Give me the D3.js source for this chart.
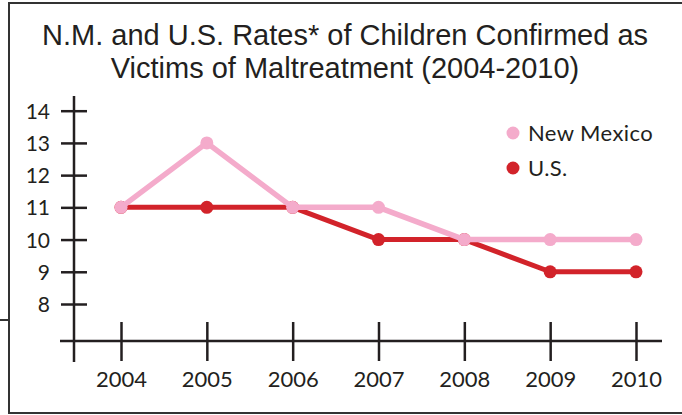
<!DOCTYPE html>
<html><head><meta charset="utf-8">
<script src="https://cdn.jsdelivr.net/npm/d3@7"></script>
<style>body{margin:0;background:#fff}svg{display:block}</style>
</head><body>
<script>
const years = [2004, 2005, 2006, 2007, 2008, 2009, 2010];
const newMexico = [11, 13, 11, 11, 10, 10, 10];
const us = [11, 11, 11, 10, 10, 9, 9];
const yTicks = [8, 9, 10, 11, 12, 13, 14];
const titleLines = ["N.M. and U.S. Rates* of Children Confirmed as", "Victims of Maltreatment (2004-2010)"];
const seriesNames = ["New Mexico", "U.S."];
const colors = ["#F4ABCB", "#D2232A"];

const W = 682, H = 415;
const svg = d3.select("body").append("svg").attr("width", W).attr("height", H);
const ink = "#231F20";

// frame
svg.append("path").attr("d", `M${W+5},3 H9 V413 H${W+5}`).attr("fill","none").attr("stroke","#333").attr("stroke-width",2);
svg.append("line").attr("x1",0).attr("x2",9).attr("y1",320).attr("y2",320).attr("stroke","#333").attr("stroke-width",2);

// title
svg.append("g").selectAll("text").data(titleLines).join("text")
  .attr("x", 345).attr("y", (d,i)=>45+i*33).attr("text-anchor","middle")
  .attr("font-family","Liberation Sans, Arial, sans-serif").attr("font-size",29).attr("fill",ink)
  .text(d=>d);

const x = d3.scaleLinear().domain([2004, 2010]).range([121, 636]);
const y = d3.scaleLinear().domain([8, 14]).range([304, 110.7]);
const font = "Lato, sans-serif";

// y axis
const ya = svg.append("g").attr("transform","translate(74,0)")
  .call(d3.axisLeft(y).tickValues(yTicks).tickSize(13).tickPadding(0).tickFormat(d3.format("d")));
ya.select(".domain").remove();
ya.selectAll(".tick line").attr("x1",-13).attr("x2",13).attr("stroke",ink).attr("stroke-width",2.5);
ya.selectAll(".tick text").attr("x",-24).attr("dy","0.36em").attr("font-family",font).attr("font-size",21).attr("fill",ink);
svg.append("line").attr("x1",74).attr("x2",74).attr("y1",96).attr("y2",362).attr("stroke",ink).attr("stroke-width",2.5);

// x axis
const xa = svg.append("g").attr("transform","translate(0,341)")
  .call(d3.axisBottom(x).tickValues(years).tickSize(20).tickFormat(d3.format("d")));
xa.select(".domain").remove();
xa.selectAll(".tick line").attr("y1",-19).attr("y2",20).attr("stroke",ink).attr("stroke-width",2.5);
xa.selectAll(".tick text").attr("y",46).attr("dy",0).attr("font-family",font).attr("font-size",22).attr("fill",ink);
svg.append("line").attr("x1",60).attr("x2",662).attr("y1",341).attr("y2",341).attr("stroke",ink).attr("stroke-width",2.5);

// series
const series = [
  {name: seriesNames[1], vals: us, color: colors[1], w: 5},
  {name: seriesNames[0], vals: newMexico, color: colors[0], w: 5.5}
];
const line = d3.line().x((d,i)=>x(years[i])).y(d=>y(d));
series.forEach(s=>{
  svg.append("path").datum(s.vals).attr("d", line).attr("fill","none")
    .attr("stroke", s.color).attr("stroke-width", s.w).attr("stroke-linejoin","round");
  svg.append("g").selectAll("circle").data(s.vals).join("circle")
    .attr("cx",(d,i)=>x(years[i])).attr("cy",d=>y(d)).attr("r",6.5).attr("fill",s.color);
});

// legend
const lg = svg.append("g").selectAll("g").data(seriesNames).join("g")
  .attr("transform",(d,i)=>`translate(513,${133+i*35})`);
lg.append("circle").attr("r",6.5).attr("fill",(d,i)=>colors[i]);
lg.append("text").attr("x",15).attr("y",8).attr("font-family",font).attr("font-size",22)
  .attr("letter-spacing",0.4).attr("fill",ink).text(d=>d);
</script>
</body></html>
